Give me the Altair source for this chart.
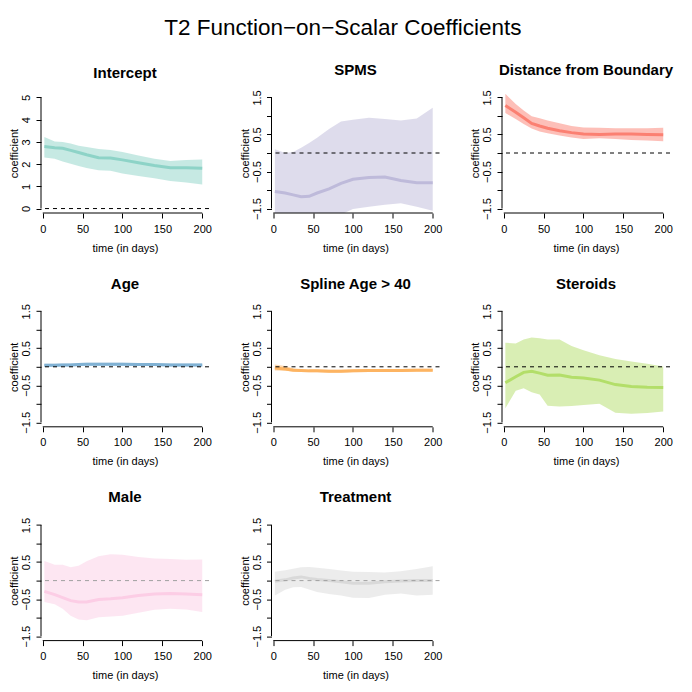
import altair as alt
import pandas as pd

times = [2, 15, 25, 35, 45, 55, 70, 85, 100, 120, 140, 160, 180, 200]

panel_titles = ["Intercept", "SPMS", "Distance from Boundary", "Age",
                "Spline Age > 40", "Steroids", "Male", "Treatment"]
colors = ["#8DD3C7", "#BEBADA", "#FB8072", "#80B1D3",
          "#FDB462", "#B3DE69", "#FCCDE5", "#D9D9D9"]
zero_colors = ["black", "black", "black", "black", "black", "black", "#a0a0a0", "#a0a0a0"]

x_ticks = [0, 50, 100, 150, 200]
y_ticks_intercept = [0, 1, 2, 3, 4, 5]
y_ticks_other = [-1.5, -1, -0.5, 0, 0.5, 1, 1.5]

intercept_mean = [2.79, 2.74, 2.71, 2.62, 2.52, 2.42, 2.29, 2.27, 2.19, 2.06, 1.94, 1.84, 1.84, 1.81]
intercept_hi = [3.22, 3.02, 3.00, 2.93, 2.83, 2.77, 2.68, 2.64, 2.55, 2.39, 2.24, 2.14, 2.18, 2.21]
intercept_lo = [2.30, 2.24, 2.12, 2.02, 1.92, 1.83, 1.72, 1.70, 1.58, 1.47, 1.36, 1.24, 1.17, 1.08]

spms_mean = [-1.04, -1.08, -1.13, -1.18, -1.17, -1.08, -0.97, -0.82, -0.71, -0.66, -0.65, -0.74, -0.80, -0.80]
spms_hi = [0.10, 0.00, 0.03, 0.14, 0.27, 0.41, 0.65, 0.85, 0.90, 0.95, 0.92, 0.88, 0.93, 1.22]
spms_lo = [-1.90, -1.90, -1.90, -1.90, -1.90, -1.85, -1.80, -1.66, -1.51, -1.45, -1.40, -1.36, -1.45, -1.56]

dist_mean = [1.28, 1.10, 0.95, 0.80, 0.73, 0.67, 0.60, 0.55, 0.51, 0.50, 0.51, 0.51, 0.50, 0.49]
dist_hi = [1.60, 1.32, 1.15, 0.99, 0.94, 0.88, 0.80, 0.73, 0.69, 0.68, 0.67, 0.67, 0.67, 0.68]
dist_lo = [1.08, 0.92, 0.78, 0.66, 0.58, 0.53, 0.47, 0.42, 0.38, 0.40, 0.38, 0.35, 0.34, 0.32]

age_mean = [0.04, 0.04, 0.05, 0.05, 0.06, 0.07, 0.07, 0.07, 0.07, 0.06, 0.06, 0.05, 0.05, 0.05]
age_hi = [0.08, 0.08, 0.09, 0.09, 0.10, 0.11, 0.11, 0.11, 0.11, 0.10, 0.10, 0.09, 0.09, 0.09]
age_lo = [0.00, 0.00, 0.01, 0.01, 0.02, 0.03, 0.03, 0.03, 0.03, 0.02, 0.02, 0.01, 0.01, 0.01]

spline_mean = [-0.03, -0.06, -0.09, -0.10, -0.11, -0.11, -0.12, -0.12, -0.11, -0.10, -0.10, -0.10, -0.09, -0.09]
spline_hi = [0.06, 0.02, -0.04, -0.06, -0.07, -0.07, -0.08, -0.08, -0.07, -0.06, -0.06, -0.06, -0.05, -0.05]
spline_lo = [-0.10, -0.11, -0.13, -0.14, -0.15, -0.15, -0.16, -0.16, -0.15, -0.14, -0.14, -0.14, -0.13, -0.13]

steroid_mean = [-0.43, -0.27, -0.15, -0.12, -0.17, -0.23, -0.22, -0.28, -0.30, -0.36, -0.48, -0.53, -0.55, -0.56]
steroid_hi = [0.65, 0.63, 0.74, 0.79, 0.77, 0.74, 0.74, 0.56, 0.45, 0.31, 0.21, 0.14, 0.08, 0.01]
steroid_lo = [-1.12, -0.65, -0.58, -0.69, -0.75, -1.05, -1.07, -1.06, -1.03, -1.00, -1.24, -1.27, -1.25, -1.21]

male_mean = [-0.29, -0.38, -0.46, -0.54, -0.58, -0.58, -0.51, -0.49, -0.46, -0.40, -0.36, -0.35, -0.36, -0.38]
male_hi = [0.53, 0.43, 0.43, 0.36, 0.40, 0.52, 0.66, 0.71, 0.70, 0.64, 0.60, 0.58, 0.56, 0.57]
male_lo = [-0.58, -0.64, -0.76, -0.95, -1.05, -1.07, -0.99, -0.97, -0.95, -0.87, -0.79, -0.76, -0.78, -0.85]

treat_mean = [-0.02, 0.02, 0.07, 0.10, 0.06, 0.03, 0.00, -0.03, -0.07, -0.07, -0.03, -0.01, 0.00, 0.00]
treat_hi = [0.24, 0.28, 0.32, 0.36, 0.37, 0.35, 0.31, 0.27, 0.24, 0.23, 0.22, 0.25, 0.31, 0.39]
treat_lo = [-0.40, -0.25, -0.18, -0.17, -0.24, -0.31, -0.36, -0.40, -0.46, -0.47, -0.38, -0.35, -0.40, -0.38]

series = [
    (intercept_mean, intercept_lo, intercept_hi),
    (spms_mean, spms_lo, spms_hi),
    (dist_mean, dist_lo, dist_hi),
    (age_mean, age_lo, age_hi),
    (spline_mean, spline_lo, spline_hi),
    (steroid_mean, steroid_lo, steroid_hi),
    (male_mean, male_lo, male_hi),
    (treat_mean, treat_lo, treat_hi),
]

W, H = 168, 120
X_DOMAIN = [-2.2, 208.5]
FONT = "Liberation Sans"


def panel(i):
    mean, lo, hi = series[i]
    df = pd.DataFrame({"t": times, "mean": mean, "lo": lo, "hi": hi})
    if i == 0:
        yticks = y_ticks_intercept
        ydom = [-0.2, 5.2]
        lexpr = "format(datum.value, 'd')"
    else:
        yticks = y_ticks_other
        ydom = [-1.62, 1.62]
        lexpr = "abs(round(datum.value * 2)) % 2 == 1 ? format(datum.value, '.1f') : ''"

    xs = alt.Scale(domain=X_DOMAIN, nice=False, zero=False)
    ys = alt.Scale(domain=ydom, nice=False, zero=False)
    xax = alt.Axis(values=x_ticks, title="time (in days)", labelPadding=5,
                   titlePadding=8, labelFlush=False, labelOverlap=False)
    yax = alt.Axis(values=yticks, title="coefficient", labelExpr=lexpr,
                   labelAngle=-90, labelAlign="center", labelBaseline="alphabetic",
                   labelPadding=6.5, titlePadding=1, labelFlush=False,
                   labelOverlap=False, labelSeparation=0)

    band = alt.Chart(df).mark_area(color=colors[i], opacity=0.5, clip=True).encode(
        x=alt.X("t:Q", scale=xs, axis=xax),
        y=alt.Y("lo:Q", scale=ys, axis=yax),
        y2="hi:Q",
    )
    line = alt.Chart(df).mark_line(color=colors[i], strokeWidth=3, clip=True).encode(
        x=alt.X("t:Q", axis=xax), y=alt.Y("mean:Q", axis=yax)
    )
    zdf = pd.DataFrame({"z": [0]})
    zero = alt.Chart(zdf).mark_rule(color=zero_colors[i], strokeDash=[4, 4],
                                    strokeWidth=1).encode(y=alt.Y("z:Q", axis=yax))
    xl = pd.DataFrame({"a": [x_ticks[0]], "b": [x_ticks[-1]]})
    xline = alt.Chart(xl).mark_rule(color="black", strokeWidth=1).encode(
        x=alt.X("a:Q", axis=xax), x2="b:Q", y=alt.value(H))
    yl = pd.DataFrame({"a": [yticks[0]], "b": [yticks[-1]]})
    yline = alt.Chart(yl).mark_rule(color="black", strokeWidth=1).encode(
        y=alt.Y("a:Q", axis=yax), y2="b:Q", x=alt.value(0))

    return alt.layer(band, line, zero, xline, yline).properties(
        width=W, height=H,
        title=alt.TitleParams(panel_titles[i], fontSize=15, fontWeight="bold",
                              font=FONT, anchor="middle", offset=12),
    )


panels = [panel(i) for i in range(8)]

chart = alt.concat(*panels, columns=3, spacing={"row": 93.8, "column": 62.5},
                   bounds="flush").properties(
    title=alt.TitleParams("T2 Function\u2212on\u2212Scalar Coefficients", fontSize=22.5,
                          fontWeight="normal", font=FONT, anchor="middle",
                          offset=23.5, dx=2),
    padding={"left": 0, "top": 8, "right": 5, "bottom": 5},
).configure_view(stroke=None).configure_axis(
    grid=False, domain=False, tickColor="black", labelColor="black",
    titleColor="black", labelFont=FONT, titleFont=FONT, labelFontSize=11,
    titleFontSize=11, titleFontWeight="normal", tickSize=5, tickWidth=1,
    labelOverlap=False,
).configure_title(color="black")

chart.save("out.html", embed_options={"renderer": "svg", "actions": False})
